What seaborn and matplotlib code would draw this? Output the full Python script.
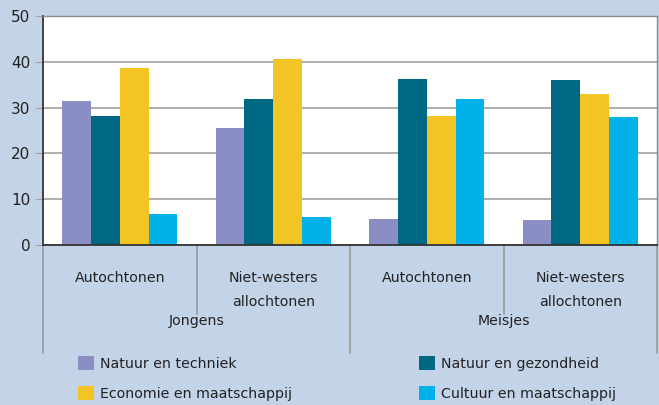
import matplotlib
matplotlib.use('Agg')
import matplotlib.pyplot as plt
import pandas as pd
import seaborn as sns
from matplotlib.patches import Patch

# data
groepen = ['J-Autochtonen', 'J-Niet-westers', 'M-Autochtonen', 'M-Niet-westers']
subgroep_labels = ['Autochtonen', 'Niet-westers\nallochtonen', 'Autochtonen', 'Niet-westers\nallochtonen']
geslacht = ['Jongens', 'Meisjes']
richtingen = ['Natuur en techniek', 'Natuur en gezondheid',
              'Economie en maatschappij', 'Cultuur en maatschappij']
natuur_techniek = [31.5, 25.5, 5.7, 5.5]
natuur_gezondheid = [28.2, 31.8, 36.3, 36.0]
economie = [38.7, 40.6, 28.2, 33.0]
cultuur = [6.8, 6.1, 31.8, 28.0]
kleuren = ['#8b8ec4', '#006882', '#f2c525', '#00b1ea']
bg = '#c3d3e8'

df = pd.DataFrame({
    'groep': groepen * 4,
    'richting': [r for r in richtingen for _ in groepen],
    'pct': natuur_techniek + natuur_gezondheid + economie + cultuur,
})

sns.set_style('white')
plt.rcParams['font.family'] = ['DejaVu Sans']
fs = 10.2

fig = plt.figure(figsize=(6.59, 4.05), dpi=100, facecolor=bg)
ax = fig.add_axes([43/659, 1-245/405, 614/659, 229/405])
ax.set_facecolor('white')

sns.barplot(data=df, x='groep', y='pct', hue='richting', hue_order=richtingen,
            palette=kleuren, width=0.75, saturation=1, linewidth=0,
            legend=False, ax=ax)

ax.set_ylim(0, 50)
ax.set_xlim(-0.5, 3.5)
ax.set_yticks(range(0, 51, 10))
ax.yaxis.grid(True, color='#a8a8a8', linewidth=1.3)
ax.set_axisbelow(True)
ax.tick_params(axis='y', length=6, color='#a3a3a3', labelsize=fs + 0.8, pad=3,
               direction='out', left=True, labelcolor='#222222')
ax.set_xticks([])
ax.set_xlabel('')
ax.set_ylabel('')
for s in ['left', 'bottom']:
    ax.spines[s].set_color('#333333')
    ax.spines[s].set_linewidth(1.3)
for s in ['top', 'right']:
    ax.spines[s].set_color('#8a8a8a')
    ax.spines[s].set_linewidth(1)

tr = ax.get_xaxis_transform()
# separator lines under the axis
for xpos, ymin in [(-0.5, -0.47), (1.5, -0.47), (3.5, -0.47), (0.5, -0.3), (2.5, -0.3)]:
    ax.plot([xpos, xpos], [0, ymin], transform=tr, color='#999999', lw=1.2, clip_on=False)

for i, lab in enumerate(subgroep_labels):
    ax.text(i, -0.115, lab, transform=tr, ha='center', va='top', fontsize=fs,
            color='#222222', linespacing=1.85)
for i, lab in enumerate(geslacht):
    ax.text(0.5 + 2 * i, -0.30, lab, transform=tr, ha='center', va='top',
            fontsize=fs, color='#222222')

handles = [Patch(facecolor=c, edgecolor='none') for c in kleuren]
order = [0, 2, 1, 3]
fig.legend([handles[i] for i in order], [richtingen[i] for i in order],
           ncol=2, loc='upper left', bbox_to_anchor=(65/659, 1-343/405),
           frameon=False, fontsize=fs, handlelength=1.15, handleheight=1.2,
           handletextpad=0.45, columnspacing=8.9, labelspacing=1.05,
           labelcolor='#222222')

plt.savefig('out.png', dpi=100, facecolor=bg)
plt.close()
